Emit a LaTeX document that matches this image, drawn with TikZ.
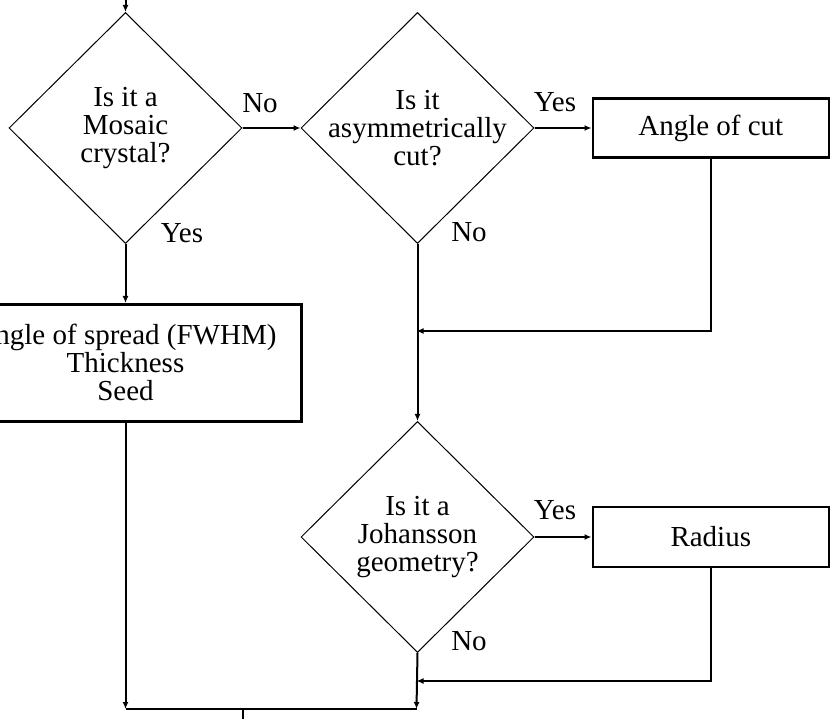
\documentclass[tikz,border=0pt]{standalone}
\usepackage{fontspec}
\setmainfont{Liberation Serif}
\usetikzlibrary{
  arrows.meta,
  positioning,
  shapes.geometric
}
\newcommand{\flowfont}{\fontsize{29}{28}\selectfont}
\tikzset{
  askdiamond/.style={draw, diamond, line width=1pt,
    minimum width=233pt, minimum height=231pt, inner sep=0pt},
  asktext/.style={align=center, inner sep=0pt, font=\flowfont},
  parambox/.style={draw, line width=2.6pt,
    minimum width=236pt, minimum height=59pt,
    align=center, font=\flowfont},
  answer/.style={anchor=base, inner sep=0pt, font=\flowfont},
  arr/.style={-{Latex[length=7pt,width=6pt]}, line width=2pt},
  ln/.style={line width=2pt},
}

\begin{document}
\begin{tikzpicture}[x=1pt, y=-1pt]
  \useasboundingbox (0,0) rectangle (833,719);
  \clip (0,0) rectangle (833,719);

  % questions
  \node[askdiamond] (mosaic) at (125.5,128) {};
  \node[askdiamond, right=58pt of mosaic] (asym) {};
  \node[askdiamond, below=177pt of asym] (johansson) {};
  \node[asktext] (mosaictxt) at (mosaic) {Is it a\\Mosaic\\crystal?};
  \node[asktext] (asymtxt) at (asym) {Is it\\asymmetrically\\cut?};
  \node[asktext] (johanssontxt) at (johansson) {Is it a\\Johansson\\geometry?};

  % parameters
  \node[parambox, right=57pt of asym] (cut) {Angle of cut};
  \node[parambox, below=59pt of mosaic, minimum width=352pt, minimum height=117pt]
    (spread) {Angle of spread (FWHM)\\Thickness\\Seed};
  \node[parambox, right=57pt of johansson, minimum height=60pt] (radius) {Radius};

  % joins
  \coordinate[above=13pt of mosaic.north] (entry);
  \coordinate (joincut) at (416.5,331);
  \coordinate (joinradius) at (416.5,681);
  \coordinate (endright) at (416.5,709);
  \coordinate (endleft) at (125.5,709);
  \coordinate (endmid) at (243,709);
  \coordinate (exit) at (243,725);

  \draw[arr] (entry) -- (mosaic);
  \draw[arr] (mosaic) -- (asym);
  \draw[arr] (asym) -- (cut);
  \draw[arr] (mosaic) -- (spread);
  \draw[arr] (asym) -- (johansson);
  \draw[arr] (cut.south) |- (joincut);
  \draw[arr] (johansson) -- (radius);
  \draw[arr] (radius.south) |- (joinradius);
  \draw[arr] (johansson.south) -- (endright);
  \draw[arr] (spread.south) -- (endleft);
  \draw[ln, line width=2.6pt] (endleft) -- (endright);
  \draw[ln] (endmid) -- (exit);

  % answers
  \node[answer] (no1) at (260,113) {No};
  \node[answer] (yes1) at (182,243) {Yes};
  \node[answer] (yes2) at (555,112) {Yes};
  \node[answer] (no2) at (469,242) {No};
  \node[answer] (yes3) at (555,519) {Yes};
  \node[answer] (no3) at (469,650) {No};
\end{tikzpicture}
\end{document}
